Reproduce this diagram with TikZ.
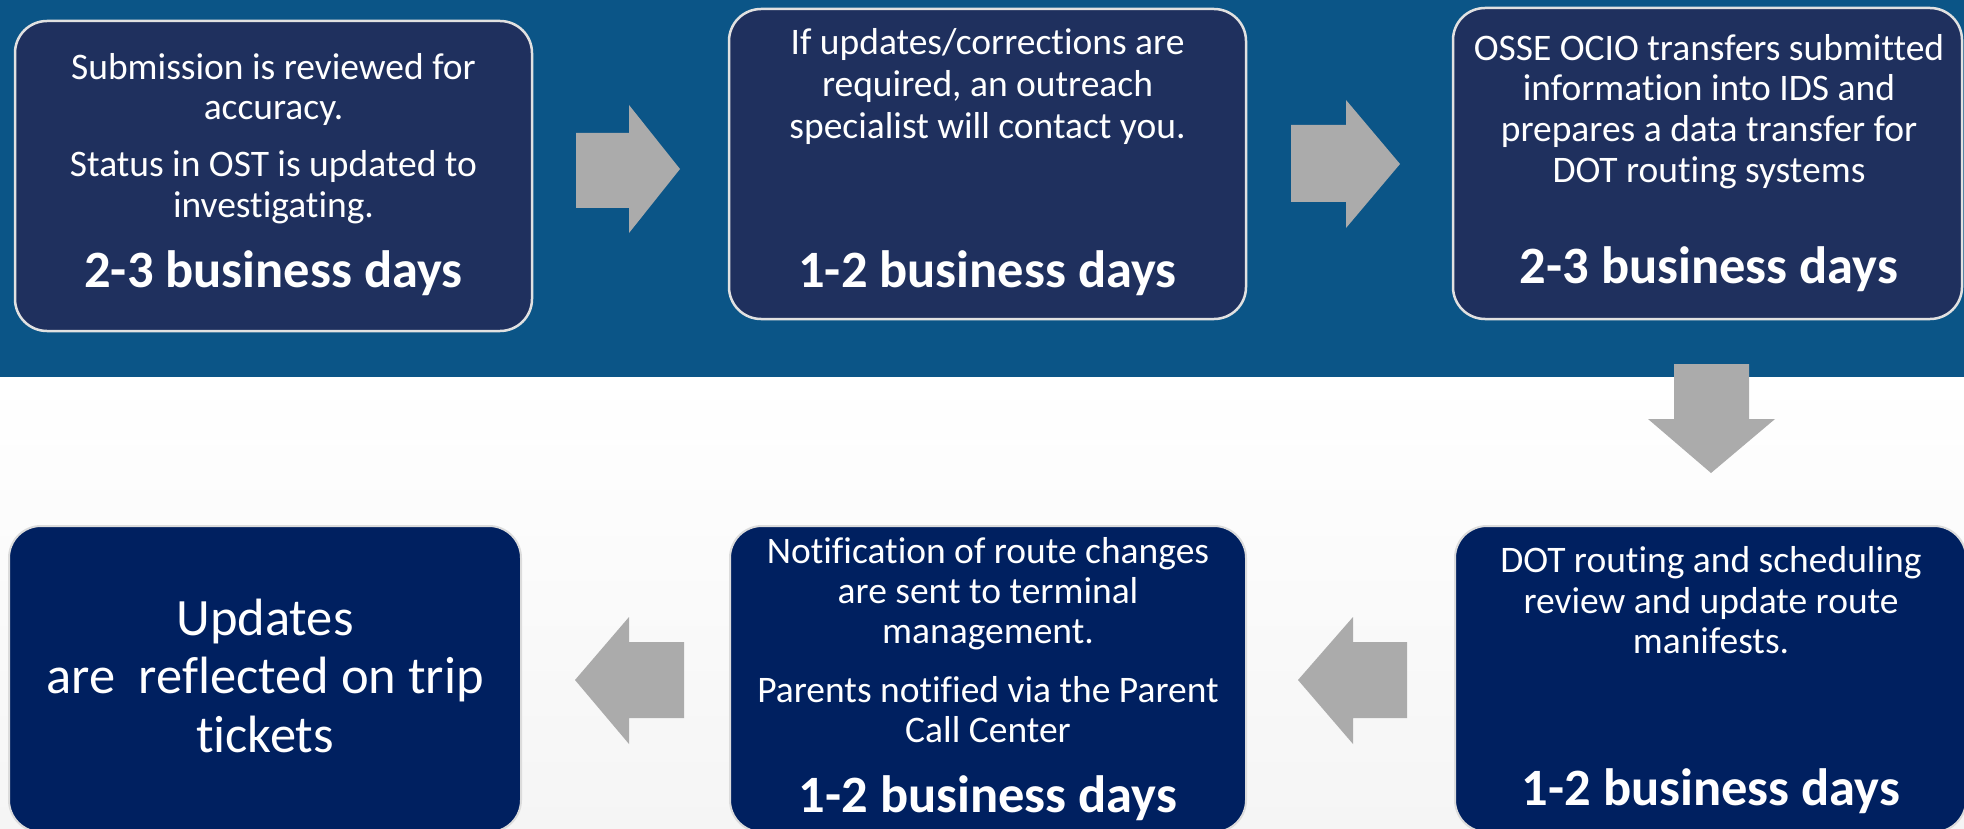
\documentclass[tikz,border=0pt]{standalone}
\usepackage{fontspec}
\setmainfont{Carlito}[RawFeature={-liga}]
\definecolor{band}{RGB}{11,85,135}
\definecolor{topfill}{RGB}{31,48,94}
\definecolor{botfill}{RGB}{0,32,96}
\definecolor{arrowgray}{RGB}{171,171,171}
\definecolor{bgbot}{RGB}{245,245,245}
\definecolor{topedge}{RGB}{225,225,225}
\definecolor{botedge}{RGB}{220,220,220}
\begin{document}
\begin{tikzpicture}[x=1pt,y=-1pt,
  topbox/.style={draw=topedge,line width=2.5pt,fill=topfill,rounded corners=32pt,inner sep=0pt},
  botbox/.style={draw=botedge,line width=2pt,fill=botfill,rounded corners=32pt,inner sep=0pt},
  txt/.style={text=white,anchor=base,inner sep=0pt,font=\fontsize{37.5}{42}\selectfont},
  big/.style={text=white,anchor=base,inner sep=0pt,font=\fontsize{52.5}{58}\selectfont\bfseries},
  bigtxt/.style={text=white,anchor=base,inner sep=0pt,font=\fontsize{52.5}{58}\selectfont},
  blk/.style={fill=arrowgray,draw=none}]
\useasboundingbox (0,0) rectangle (1964,829);
% backgrounds
\shade[top color=white,bottom color=bgbot] (0,377) rectangle (1964,829);
\fill[band] (0,0) rectangle (1964,377);
% boxes
\node[topbox,minimum width=517pt,minimum height=310pt] (b1) at (273.5,176) {};
\node[topbox,minimum width=517pt,minimum height=310pt] (b2) at (987.5,164) {};
\node[topbox,minimum width=509pt,minimum height=311pt] (b3) at (1707.5,163.5) {};
\node[botbox,minimum width=512pt,minimum height=306pt] (b4) at (265,679) {};
\node[botbox,minimum width=516pt,minimum height=306pt] (b5) at (988,679) {};
\node[botbox,minimum width=511pt,minimum height=306pt] (b6) at (1710.5,679) {};
% box 1 text
\node[txt] (t11) at (273.5,80) {Submission is reviewed for};
\node[txt] (t12) at (273.5,120) {accuracy.};
\node[txt] (t13) at (273.5,177) {Status in OST is updated to};
\node[txt] (t14) at (273.5,218) {investigating.};
\node[big] (t15) at (273.5,287) {2-3 business days};
% box 2 text
\node[txt] (t21) at (987.5,55) {If updates/corrections are};
\node[txt] (t22) at (987.5,97) {required, an outreach};
\node[txt] (t23) at (987.5,139) {specialist will contact you.};
\node[big] (t24) at (987.5,287) {1-2 business days};
% box 3 text
\node[txt] (t31) at (1709,61) {OSSE OCIO transfers submitted};
\node[txt] (t32) at (1709,101) {information into IDS and};
\node[txt] (t33) at (1709,142) {prepares a data transfer for};
\node[txt] (t34) at (1709,183) {DOT routing systems};
\node[big] (t35) at (1709,283) {2-3 business days};
% box 4 text
\node[bigtxt] (t41) at (265,635) {Updates};
\node[bigtxt] (t42) at (265,693) {are~~reflected on trip};
\node[bigtxt] (t43) at (265,752) {tickets};
% box 5 text
\node[txt] (t51) at (988,563) {Notification of route changes};
\node[txt] (t52) at (988,603) {are sent to terminal};
\node[txt] (t53) at (988,643) {management.};
\node[txt] (t54) at (988,702) {Parents notified via the Parent};
\node[txt] (t55) at (988,742) {Call Center};
\node[big] (t56) at (988,812) {1-2 business days};
% box 6 text
\node[txt] (t61) at (1711,572) {DOT routing and scheduling};
\node[txt] (t62) at (1711,613) {review and update route};
\node[txt] (t63) at (1711,653) {manifests.};
\node[big] (t64) at (1711,805) {1-2 business days};
% block arrows
\fill[blk] (576,133) -- (629,133) -- (629,105) -- (680,169) -- (629,233) -- (629,208) -- (576,208) -- cycle;
\fill[blk] (1291,125) -- (1346,125) -- (1346,100) -- (1400,164) -- (1346,228) -- (1346,202) -- (1291,202) -- cycle;
\fill[blk] (1674,364) -- (1749,364) -- (1749,419) -- (1775,419) -- (1711,473) -- (1648,419) -- (1674,419) -- cycle;
\fill[blk] (684,642) -- (629,642) -- (629,617) -- (575,680) -- (629,744) -- (629,718) -- (684,718) -- cycle;
\fill[blk] (1407,642) -- (1353,642) -- (1353,617) -- (1298,680) -- (1353,744) -- (1353,718) -- (1407,718) -- cycle;
\end{tikzpicture}
\end{document}
